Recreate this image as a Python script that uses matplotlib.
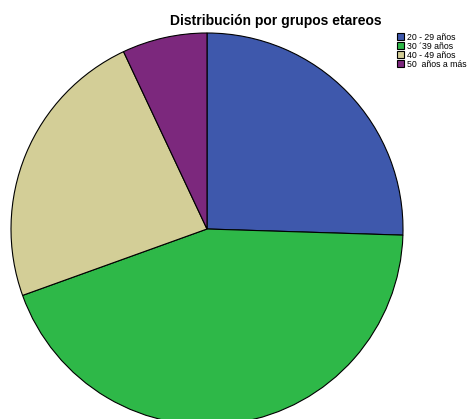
import matplotlib.pyplot as plt

# Age group distribution (percent)
groups = ["20 - 29 años", "30 ´39 años", "40 - 49 años", "50  años a más"]
shares = [25.5, 44.0, 23.5, 7.0]
colors = ["#3E58AC", "#2EB848", "#D3CE97", "#7C287D"]

plt.rcParams['font.family'] = ['Liberation Sans', 'DejaVu Sans']

fig = plt.figure(figsize=(4.77, 4.19), dpi=100)
ax = fig.add_axes([0, 0, 1, 1])

wedges, _ = ax.pie(shares, colors=colors, startangle=90, counterclock=False,
                   radius=1.0, wedgeprops=dict(edgecolor="black", linewidth=0.8))

# place pie centre and radius in pixel terms
r = 196.0
ax.set_xlim(-207 / r, (477 - 207) / r)
ax.set_ylim(-(419 - 229) / r, 229 / r)
ax.set_aspect('auto')
ax.axis('off')

fig.text(276 / 477, 1 - 21 / 419, "Distribución por grupos etareos",
         ha="center", va="center", fontsize=10, fontweight="bold")

fig.legend(wedges, groups, loc="upper left", bbox_to_anchor=(397 / 477, 1 - 33 / 419),
           frameon=False, fontsize=6.3, handlelength=0.85, handleheight=0.85,
           handletextpad=0.25, labelspacing=0.0, borderaxespad=0, borderpad=0)

fig.savefig("out.png", dpi=100)
